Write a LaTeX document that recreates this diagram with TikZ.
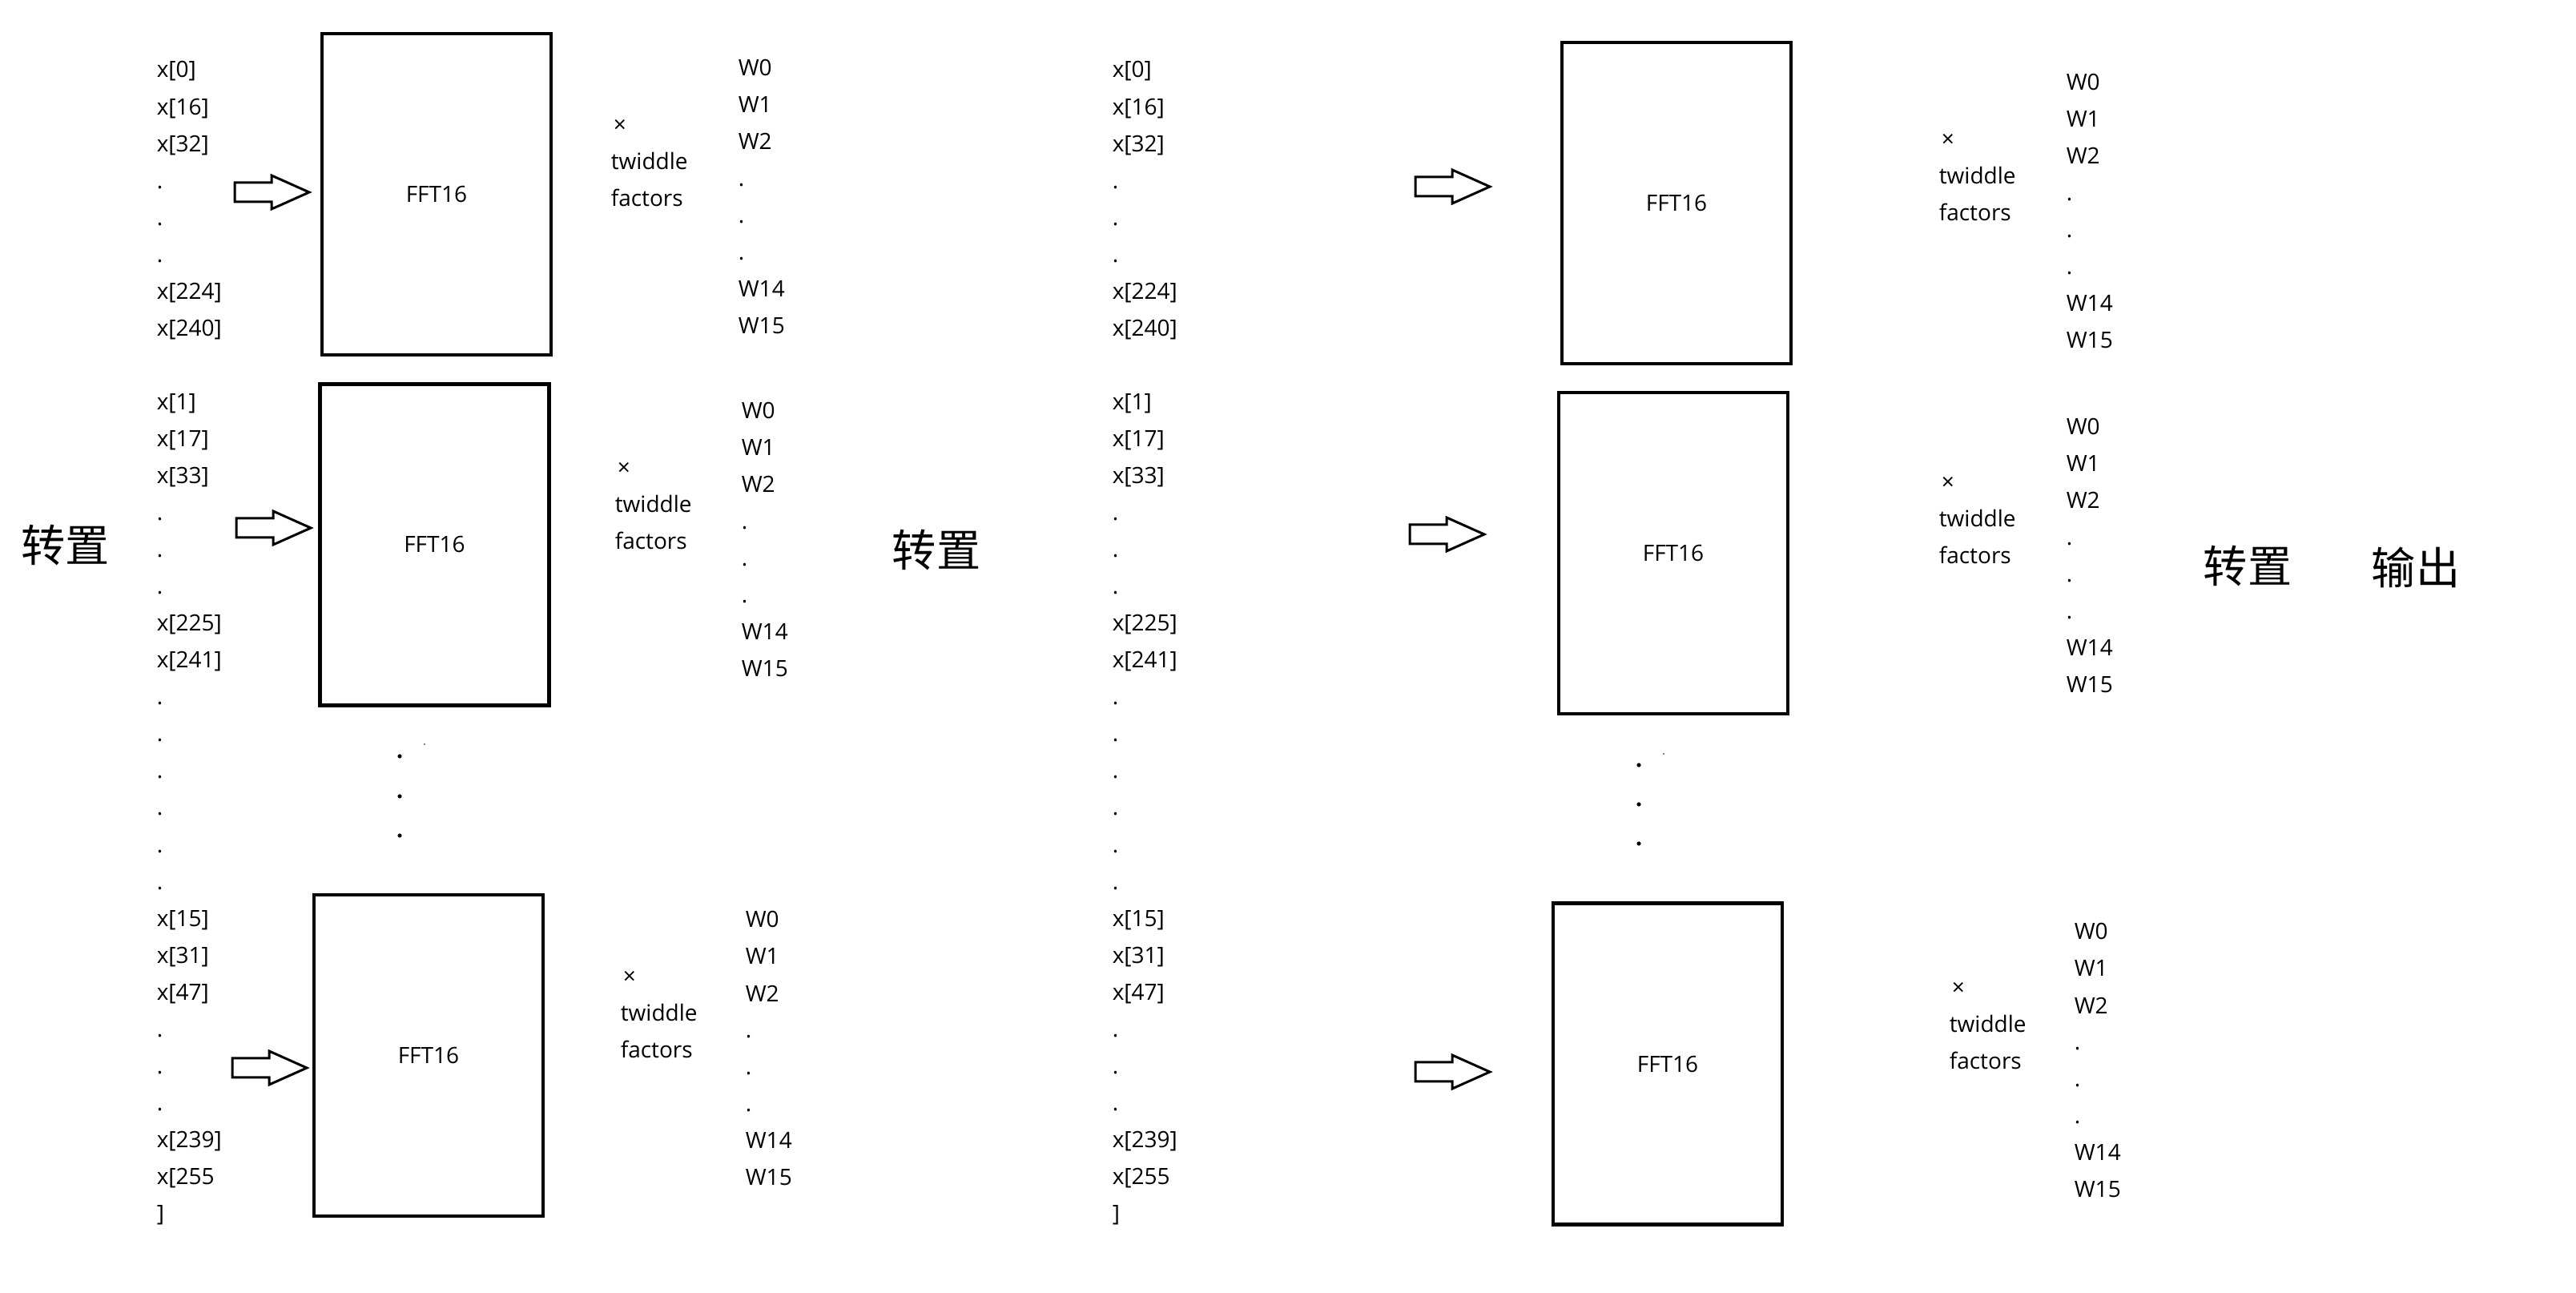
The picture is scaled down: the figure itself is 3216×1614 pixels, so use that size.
\documentclass[tikz,border=0pt]{standalone}
\usepackage{fontspec}
\setmainfont{Open Sans}
\newfontfamily\cjk{Noto Sans CJK SC}
\begin{document}
\begin{tikzpicture}[x=0.25pt,y=-0.25pt,
  lbl/.style={anchor=base west,inner sep=0pt,font=\fontsize{7}{8}\selectfont},
  fftbox/.style={draw,line width=1.05pt,inner sep=0pt,minimum width=71.5pt,minimum height=100.25pt,font=\fontsize{7}{8}\selectfont},
  cjklbl/.style={inner sep=0pt,font=\cjk\fontsize{13.8}{15}\selectfont},
  blockarrow/.style={draw,line width=0.75pt,line join=miter},
  barrow/.pic={\draw[blockarrow] (0,-12) -- (46,-12) -- (46,-21) -- (93,0) -- (46,21) -- (46,12) -- (0,12) -- cycle;}]
\fill[white] (0,0) rectangle (3216,1614);
\useasboundingbox (0,0) rectangle (3216,1614);

% input index columns
\foreach \t [count=\i from 0] in {x[0],x[16],x[32],.,.,.,x[224],x[240],{},x[1],x[17],x[33],.,.,.,x[225],x[241],.,.,.,.,.,.,x[15],x[31],x[47],.,.,.,x[239],x[255,]}{
  \node[lbl] (ca-\i) at (195,{97+46.05*\i}) {\t};
  \node[lbl] (cb-\i) at (1388,{97+46.05*\i}) {\t};
}

% FFT boxes
\node[fftbox] (b1) at (545,242.5) {FFT16};
\node[fftbox] (b2) at (542.5,680) {FFT16};
\node[fftbox] (b3) at (535,1317.5) {FFT16};
\node[fftbox] (b4) at (2093,253.5) {FFT16};
\node[fftbox] (b5) at (2089,690.5) {FFT16};
\node[fftbox] (b6) at (2082,1328) {FFT16};

% block arrows
\pic at (293,240) {barrow};
\pic at (295,659) {barrow};
\pic at (290,1333) {barrow};
\pic at (1767,233) {barrow};
\pic at (1760,667) {barrow};
\pic at (1767,1338) {barrow};

% twiddle factor groups
\foreach \g/\tx/\tt/\wx/\wy in {1/762/212/921/95, 2/767/640/925/523, 3/774/1275/930/1158, 4/2420/230/2579/113, 5/2420/658/2579/543, 6/2433/1289/2589/1173}{
  \node[lbl] (m\g) at (\tx+3,\tt-46) {×};
  \node[lbl] (tw\g) at (\tx,\tt) {twiddle};
  \node[lbl] (fa\g) at (\tx,\tt+45.5) {factors};
  \foreach \w [count=\j from 0] in {W0,W1,W2,.,.,.,W14,W15}{
    \node[lbl] (w\g-\j) at (\wx,{\wy+46*\j}) {\w};
  }
}

% vertical ellipsis between boxes
\foreach \y in {944,994,1043}{\fill (499,\y) circle[radius=0.65pt];}
\fill (530,929) circle[radius=0.2pt];
\foreach \y in {955,1004,1053}{\fill (2046,\y) circle[radius=0.65pt];}
\fill (2077,941) circle[radius=0.2pt];

% Chinese labels
\node[cjklbl] (tr1) at (82,681) {转置};
\node[cjklbl] (tr2) at (1169,687) {转置};
\node[cjklbl] (tr3) at (2806,707) {转置};
\node[cjklbl] (out) at (3016,708) {输出};
\end{tikzpicture}
\end{document}
